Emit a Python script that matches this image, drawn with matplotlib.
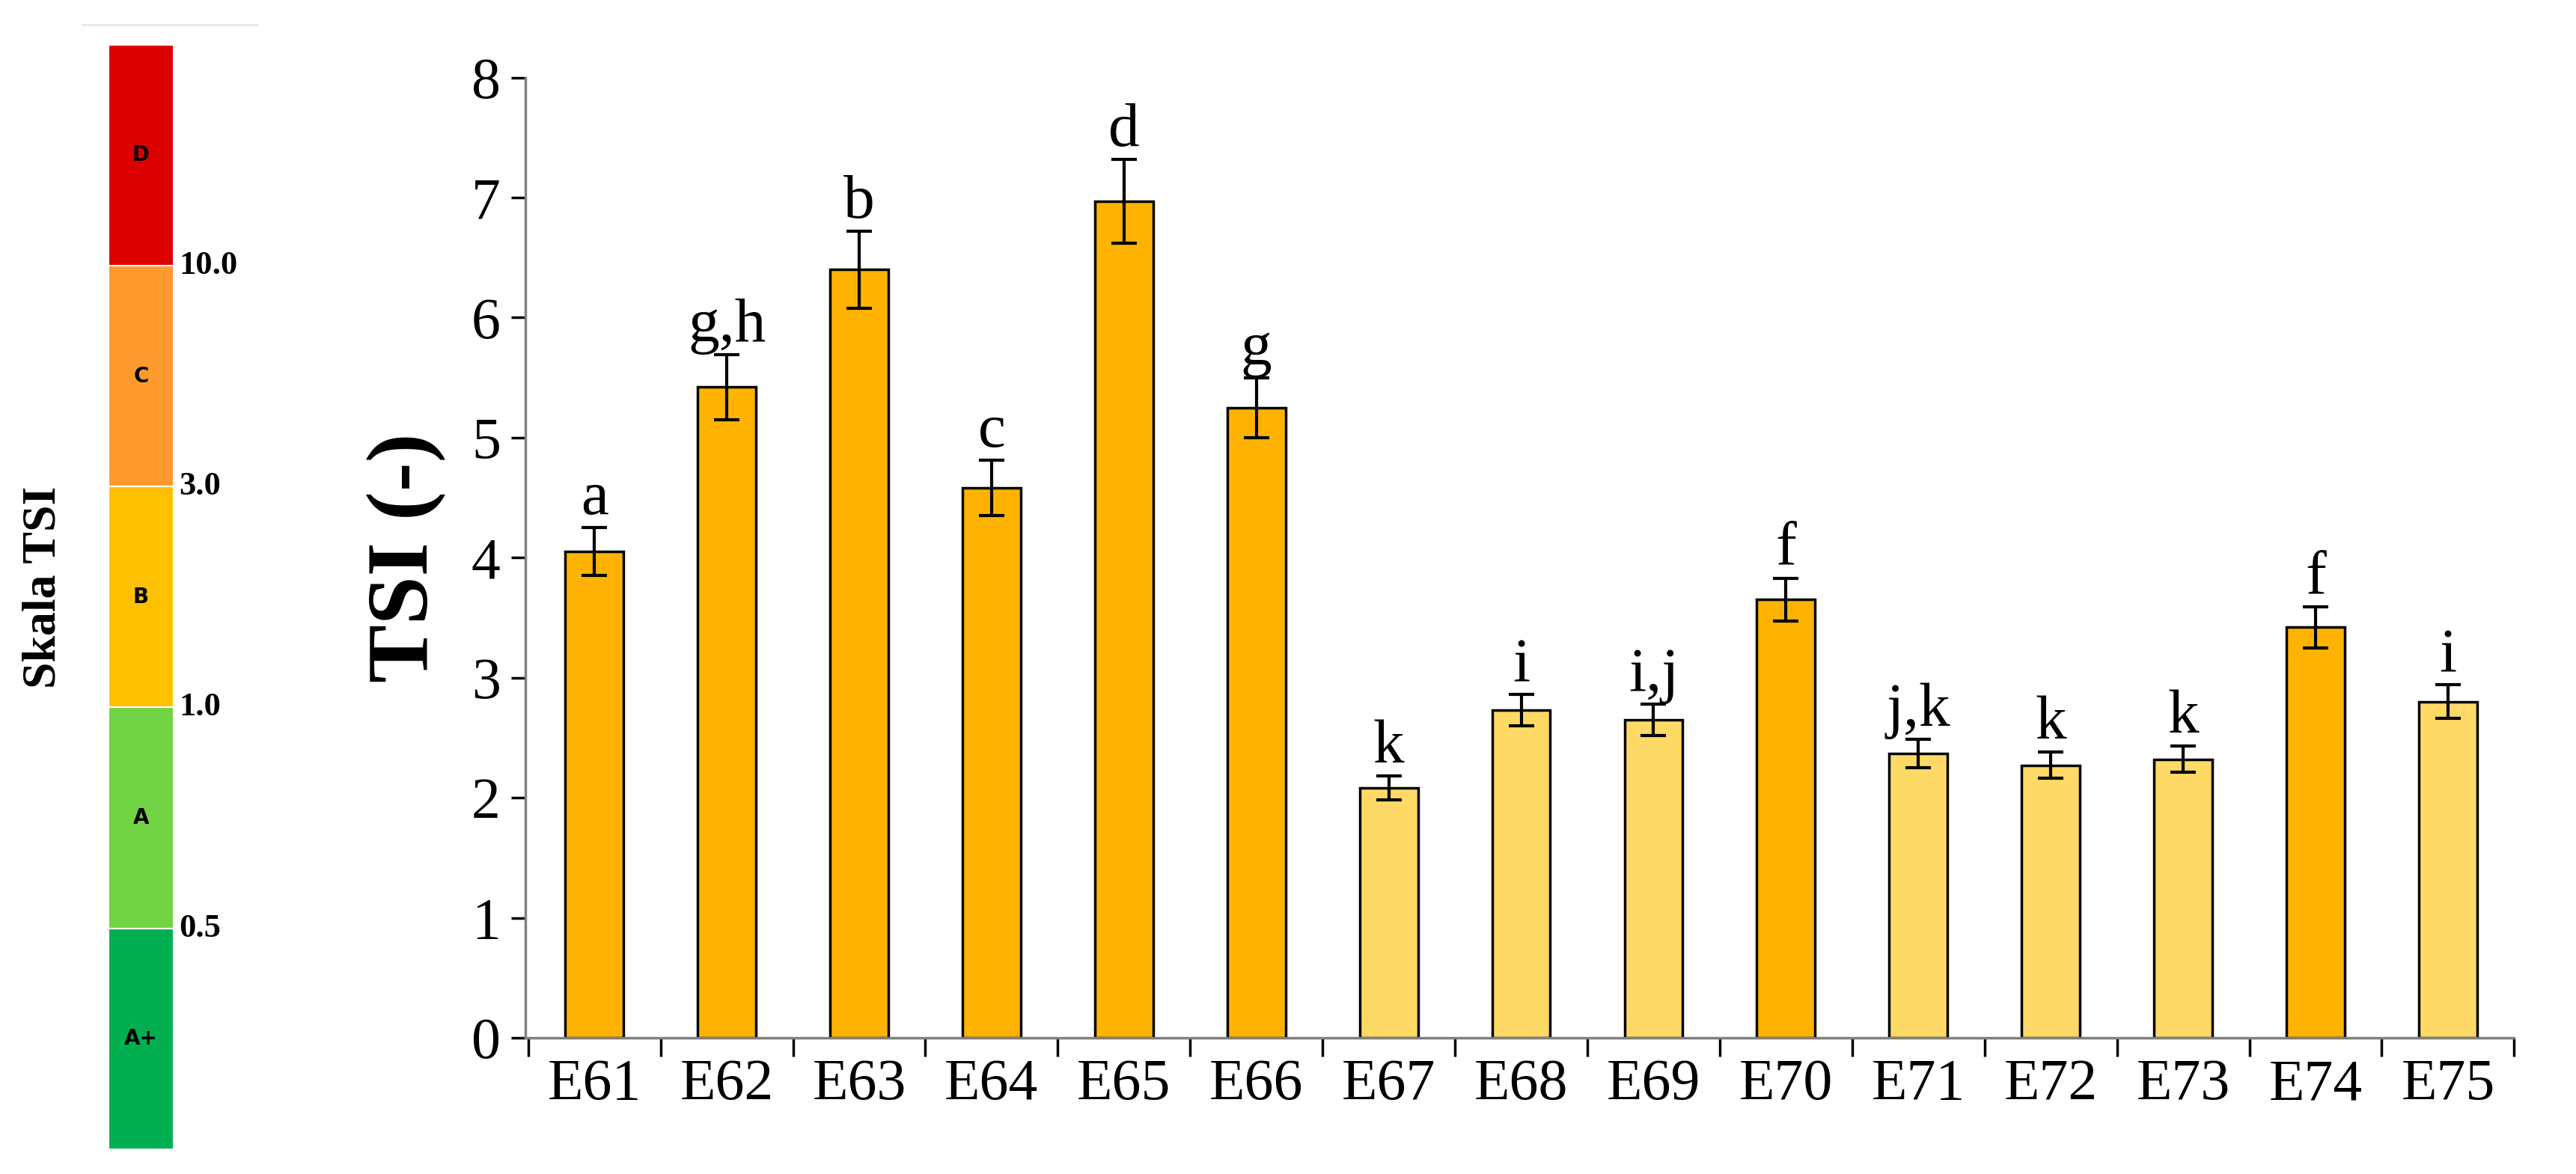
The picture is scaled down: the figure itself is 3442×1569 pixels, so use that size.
import matplotlib
matplotlib.use("Agg")
import matplotlib.pyplot as plt
import numpy as np

cats = ["E61","E62","E63","E64","E65","E66","E67","E68","E69","E70","E71","E72","E73","E74","E75"]
vals = [4.05,5.42,6.40,4.58,6.97,5.25,2.08,2.73,2.65,3.65,2.37,2.27,2.32,3.42,2.80]
errs = [0.20,0.27,0.32,0.23,0.35,0.25,0.10,0.13,0.13,0.18,0.12,0.11,0.11,0.17,0.14]
letters = ["a","g,h","b","c","d","g","k","i","i,j","f","j,k","k","k","f","i"]
scale_labels = ["A+","A","B","C","D"]
scale_colors = ["#00B050","#72D444","#FFC000","#FF9A2E","#DD0000"]
scale_bounds = ["0.5","1.0","3.0","10.0"]

plt.rcParams['font.family'] = ['Liberation Serif','DejaVu Serif']
fig = plt.figure(figsize=(34.42,15.69), dpi=100)

ax = fig.add_axes([0.204,0.116,0.772,0.818])
x = np.arange(len(cats))
cols = ["#FFB300" if v > 3 else "#FFD966" for v in vals]
ax.bar(x, vals, width=0.44, color=cols, edgecolor="black", linewidth=2.5, zorder=2)
ax.errorbar(x, vals, yerr=errs, fmt="none", ecolor="black", elinewidth=3, capsize=12, capthick=3, zorder=3)
for xi, v, e, l in zip(x, vals, errs, letters):
    ax.text(xi, v+e+0.0, l, ha="center", va="bottom", fontsize=60)
ax.set_xlim(-0.52, 14.45)
ax.set_ylim(0, 8)
ax.set_yticks(range(9))
ax.set_xticks(x)
ax.set_xticklabels(cats)
ax.set_xticks(np.arange(-0.5, 15, 1), minor=True)
ax.tick_params(axis="x", which="major", length=0, labelsize=56, pad=20)
ax.tick_params(axis="x", which="minor", length=18, width=2.5, direction="out")
ax.tick_params(axis="y", labelsize=56, length=14, width=2.5, pad=10)
for s in ["top","right"]:
    ax.spines[s].set_visible(False)
for s in ["left","bottom"]:
    ax.spines[s].set_linewidth(2.5)
    ax.spines[s].set_color("#808080")
ax.set_ylabel("TSI (-)", fontsize=84, fontweight="bold", labelpad=25)

# scale strip
sax = fig.add_axes([0.042,0.021,0.0255,0.941])
for i,(lab,c) in enumerate(zip(scale_labels, scale_colors)):
    sax.bar(0.5, 1, bottom=i, width=1, color=c, edgecolor="white", linewidth=1.5)
    sax.text(0.5, i+0.5, lab, ha="center", va="center", fontsize=20, fontweight="bold", family="DejaVu Sans")
sax.set_xlim(0,1); sax.set_ylim(0,5); sax.axis("off")
for i, b in enumerate(scale_bounds):
    fig.text(0.0695, 0.021+0.941*(i+1)/5, b, fontsize=32, fontweight="bold", va="center", ha="left")
fig.text(0.017, 0.5, "Skala TSI", rotation=90, fontsize=46, fontweight="bold", va="center", ha="center")
fig.add_artist(plt.Line2D([0.032,0.1],[0.979,0.979], color="#e8e8e8", linewidth=2))

fig.savefig("out.png", dpi=100)
